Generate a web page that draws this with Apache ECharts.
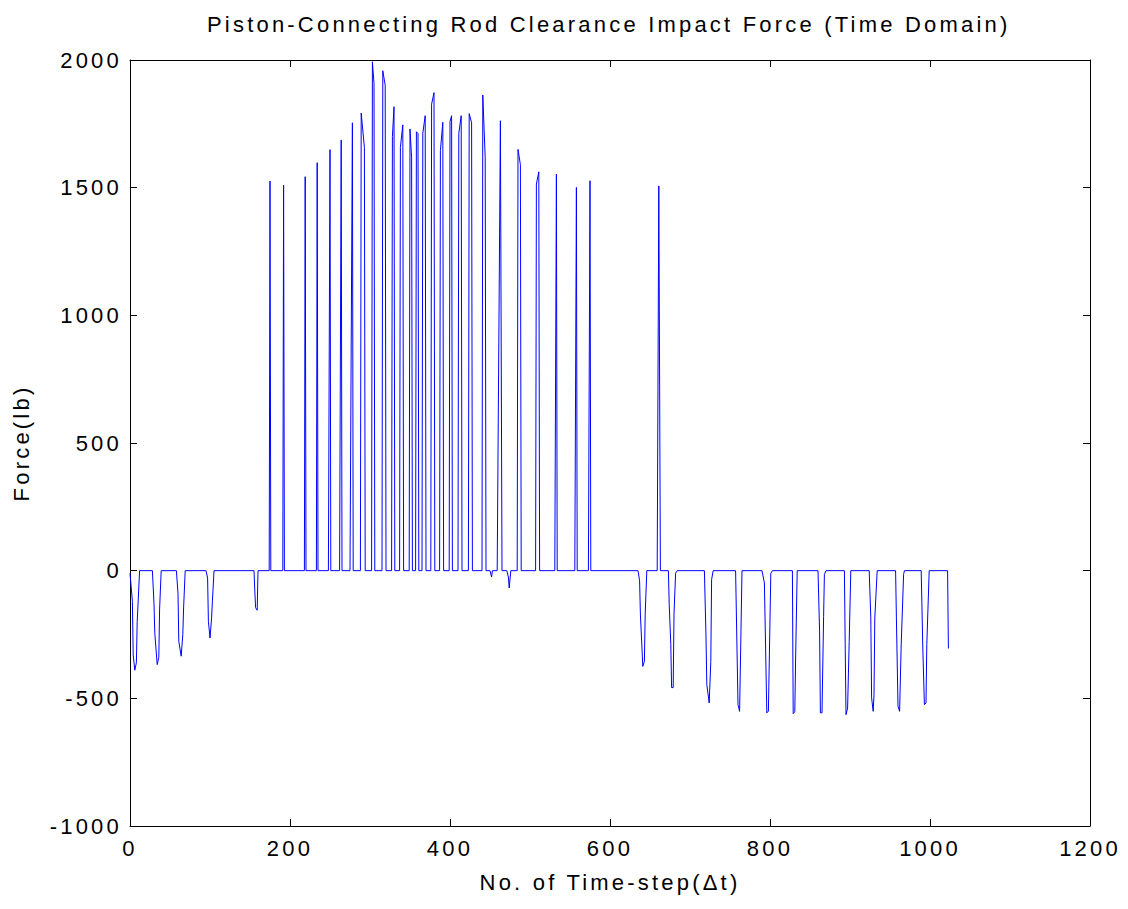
<!DOCTYPE html>
<html>
<head>
<meta charset="utf-8">
<script src="https://cdn.jsdelivr.net/npm/echarts@6/dist/echarts.min.js"></script>
<style>
html,body{margin:0;padding:0;background:#fff;}
#chart{width:1128px;height:909px;}
</style>
</head>
<body>
<div id="chart"></div>
<script>
// Time-step / force samples ([step, force lb])
const earlyDips = [
  [0,-10],[3,-120],[4,-330],[6,-390],[8,-360],[9,-200],[12,0],
  [28,0],[30,-130],[31,-245],[34,-368],[36,-340],[37,-150],[39,0],
  [58,0],[60,-90],[61,-277],[64,-335],[66,-250],[67,-146],[69,0],
  [95,0],[97,-29],[98,-198],[100,-264],[102,-185],[103,-120],[105,0],
  [155,0],[156,-80],[157,-145],[159,-155],[160,0]
];
const impactSpikes = [
  [174,0],[175,1526],[176,0],
  [191,0],[192,1510],[193,0],
  [218,0],[219,1543],[220,0],
  [233,0],[234,1598],[235,0],
  [248,0],[250,1649],[251,0],
  [262,0],[264,1687],[265,0],
  [275,0],[278,1754],[279,0],
  [288,0],[289,1792],[293,1658],[294,0],
  [302,0],[303,1993],[305,1908],[306,0],
  [315,0],[316,1958],[319,1901],[320,0],
  [327,0],[328,1700],[330,1817],[331,0],
  [337,0],[338,1658],[341,1746],[342,0],
  [349,0],[350,1730],[352,1617],[353,0],
  [357,0],[358,1719],[360,1712],[361,0],
  [365,0],[366,1713],[369,1782],[370,0],
  [376,0],[377,1827],[380,1872],[381,0],
  [387,0],[388,1645],[391,1756],[392,0],
  [399,0],[400,1759],[402,1782],[403,0],
  [410,0],[411,1713],[414,1782],[415,0],
  [423,0],[424,1790],[427,1754],[428,0],
  [440,0],[441,1863],[444,1617],[445,0],
  [450,0],[452,-25],[453,0],
  [459,0],[463,1762],[465,0],
  [471,0],[473,-25],[474,-68],[476,0],
  [484,0],[485,1650],[488,1590],[489,0],
  [507,0],[508,1514],[511,1562],[512,0],
  [531,0],[533,1553],[534,0],
  [556,0],[558,1501],[559,0],
  [573,0],[575,1527],[576,0]
];
const lateDips = [
  [635,0],[637,-40],[638,-170],[641,-375],[643,-355],[644,-170],[646,0],
  [659,0],[661,1507],[663,0],
  [673,0],[674,-130],[676,-290],[677,-458],[679,-458],[680,-170],[682,-10],[684,0],
  [718,0],[720,-260],[721,-446],[724,-518],[726,-355],[727,-35],[729,0],
  [757,0],[760,-525],[762,-551],[765,0],
  [790,0],[793,-48],[796,-557],[798,-550],[801,-10],[803,0],
  [828,0],[829,-560],[831,-552],[832,-350],[834,0],
  [860,0],[862,-240],[863,-557],[865,-557],[867,-180],[868,-15],[870,0],
  [893,0],[894,-290],[895,-564],[897,-538],[899,-277],[901,0],
  [924,0],[926,-185],[927,-498],[929,-551],[930,-485],[931,-185],[934,0],
  [957,0],[958,-185],[960,-531],[962,-551],[964,-290],[967,-15],[968,0],
  [989,0],[991,-303],[993,-525],[995,-518],[996,-290],[999,0],
  [1022,0],[1023,-305]
];
const xTicks = {min: 0, max: 1200, interval: 200};
const yTicks = {min: -1000, max: 2000, interval: 500};

const FONT = '"Liberation Sans", Arial, sans-serif';
const FS = 22;
const chart = echarts.init(document.getElementById('chart'), null, {renderer: 'svg'});
const axisBase = {
  axisLine: {show: true, onZero: false, lineStyle: {color: '#000', width: 1}},
  axisTick: {show: true, inside: true, length: 7, lineStyle: {color: '#000', width: 1}},
  splitLine: {show: false}
};
const plain = v => String(v);
chart.setOption({
  backgroundColor: '#fff',
  animation: false,
  title: {
    text: 'Piston-Connecting Rod Clearance Impact Force (Time Domain)',
    left: 202, top: 8,
    textStyle: {fontFamily: FONT, fontSize: FS, fontWeight: 'normal', color: '#000'}
  },
  grid: {left: 130, right: 38, top: 60, bottom: 83, containLabel: false},
  xAxis: [
    Object.assign({type: 'value', position: 'bottom',
      name: 'No. of Time-step(\u0394t)', nameLocation: 'middle', nameGap: 45,
      nameTextStyle: {fontFamily: FONT, fontSize: FS, color: '#000'},
      axisLabel: {fontFamily: FONT, fontSize: FS, color: '#000', margin: 11, formatter: plain}}, xTicks, axisBase),
    Object.assign({type: 'value', position: 'top', axisLabel: {show: false}}, xTicks, axisBase)
  ],
  yAxis: [
    Object.assign({type: 'value', position: 'left',
      name: 'Force(lb)', nameLocation: 'middle', nameGap: 98,
      nameTextStyle: {fontFamily: FONT, fontSize: FS, color: '#000'},
      axisLabel: {fontFamily: FONT, fontSize: FS, color: '#000', margin: 8, formatter: plain}}, yTicks, axisBase),
    Object.assign({type: 'value', position: 'right', axisLabel: {show: false}}, yTicks, axisBase)
  ],
  series: [{
    type: 'line',
    data: earlyDips.concat(impactSpikes, lateDips),
    showSymbol: false,
    symbol: 'none',
    lineStyle: {color: '#0000ff', width: 1},
    xAxisIndex: 0, yAxisIndex: 0
  }]
});
// MATLAB-style wide letter spacing on all texts
document.querySelectorAll('#chart svg text').forEach(t => t.setAttribute('letter-spacing', '3.2'));
</script>
</body>
</html>
